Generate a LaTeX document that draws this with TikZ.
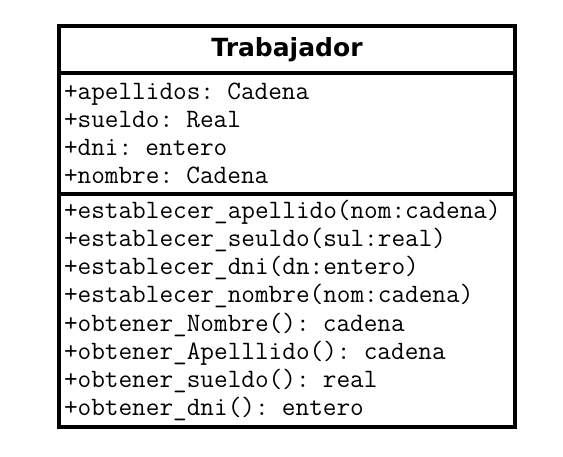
\documentclass[tikz,border=0pt]{standalone}
\usepackage{fontspec}
\setmainfont{DejaVu Sans}
\usetikzlibrary{positioning}

\begin{document}
\begin{tikzpicture}[
    x=1pt, y=-1pt,
    umlpart/.style={rectangle, draw=black, line width=3.2pt, fill=white, outer sep=0pt,
        minimum width=456pt, text width=446pt, inner sep=5pt, align=left},
    umltitle/.style={umlpart, align=center, font=\fontsize{25}{28}\selectfont\bfseries},
    umlbody/.style={umlpart, font=\ttfamily\fontsize{26.5}{28.2}\selectfont}
]
    % page frame
    \useasboundingbox (0,0) rectangle (563,456);

    % class name
    \node[umltitle, minimum height=47pt] (title) at (287,49.5) {Trabajador};

    % attributes
    \node[umlbody, minimum height=121pt, below=0pt of title] (attrs) {%
        +apellidos: Cadena\\
        +sueldo: Real\\
        +dni: entero\\
        +nombre: Cadena};

    % operations
    \node[umlbody, minimum height=233pt, below=0pt of attrs] (ops) {%
        +establecer\_apellido(nom:cadena)\\
        +establecer\_seuldo(sul:real)\\
        +establecer\_dni(dn:entero)\\
        +establecer\_nombre(nom:cadena)\\
        +obtener\_Nombre(): cadena\\
        +obtener\_Apelllido(): cadena\\
        +obtener\_sueldo(): real\\
        +obtener\_dni(): entero};

\end{tikzpicture}
\end{document}
